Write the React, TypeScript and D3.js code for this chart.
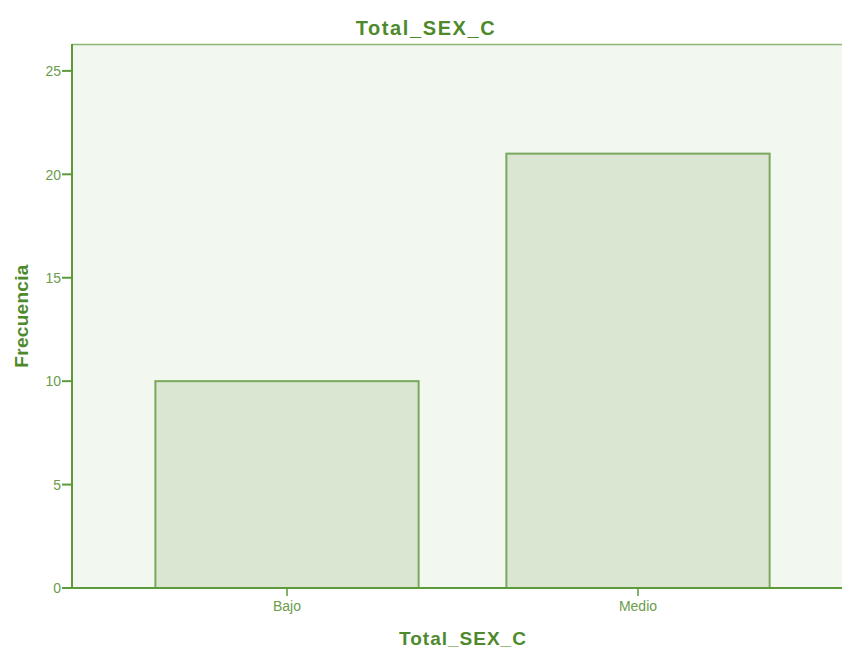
import React from "react";
import * as d3 from "d3";

const categories = ["Bajo", "Medio"];
const counts = [10, 21];
const yTicks = [0, 5, 10, 15, 20, 25];
const chartTitle = "Total_SEX_C";
const xTitle = "Total_SEX_C";
const yTitle = "Frecuencia";

export default function App() {
  const W = 842, H = 650;
  const left = 72, right = 842, top = 44, bottom = 588;
  const y = d3.scaleLinear().domain([0, 26.3]).range([bottom, top]);
  const x = d3.scaleBand<string>().domain(categories).range([111.5, 813.5]).paddingInner(0.25).paddingOuter(0.125);
  const textDark = "#4e8a2c";
  const textLight = "#6a9c4c";
  const axisCol = "#5d9a3a";
  return (
    <svg width={W} height={H} style={{ position: "absolute", left: 0, top: 0 }} fontFamily="'Liberation Sans', Arial, sans-serif">
      <rect x={left} y={top} width={right - left} height={bottom - top} fill="#f2f7f0" />
      <line x1={left} x2={right} y1={top + 0.5} y2={top + 0.5} stroke="#8ab872" strokeWidth={1.5} />
      {categories.map((c, i) => (
        <rect key={c} x={x(c)!} y={y(counts[i])} width={x.bandwidth()} height={bottom - y(counts[i])}
          fill="#dae6d1" stroke="#7aa85e" strokeWidth={2} />
      ))}
      <line x1={left} x2={left} y1={top} y2={bottom} stroke={axisCol} strokeWidth={2} />
      <line x1={left} x2={right} y1={bottom} y2={bottom} stroke={axisCol} strokeWidth={2} />
      {yTicks.map(t => (
        <g key={t}>
          <line x1={left - 10} x2={left} y1={y(t)} y2={y(t)} stroke={axisCol} strokeWidth={2} />
          <text x={left - 11} y={y(t)} dy="0.38em" textAnchor="end" fontSize={14} fill={textLight}>{t}</text>
        </g>
      ))}
      {categories.map(c => (
        <g key={c}>
          <line x1={x(c)! + x.bandwidth() / 2} x2={x(c)! + x.bandwidth() / 2} y1={bottom} y2={bottom + 8} stroke={axisCol} strokeWidth={1.5} />
          <text x={x(c)! + x.bandwidth() / 2} y={bottom + 23} textAnchor="middle" fontSize={14} fill={textLight}>{c}</text>
        </g>
      ))}
      <text x={426} y={35} textAnchor="middle" fontSize={20} fontWeight="bold" letterSpacing={1.6} fill={textDark}>{chartTitle}</text>
      <text x={463} y={645} textAnchor="middle" fontSize={19} fontWeight="bold" letterSpacing={1} fill={textDark}>{xTitle}</text>
      <text transform={`translate(28,316) rotate(-90)`} textAnchor="middle" fontSize={19} fontWeight="bold" letterSpacing={0.3} fill={textDark}>{yTitle}</text>
    </svg>
  );
}
